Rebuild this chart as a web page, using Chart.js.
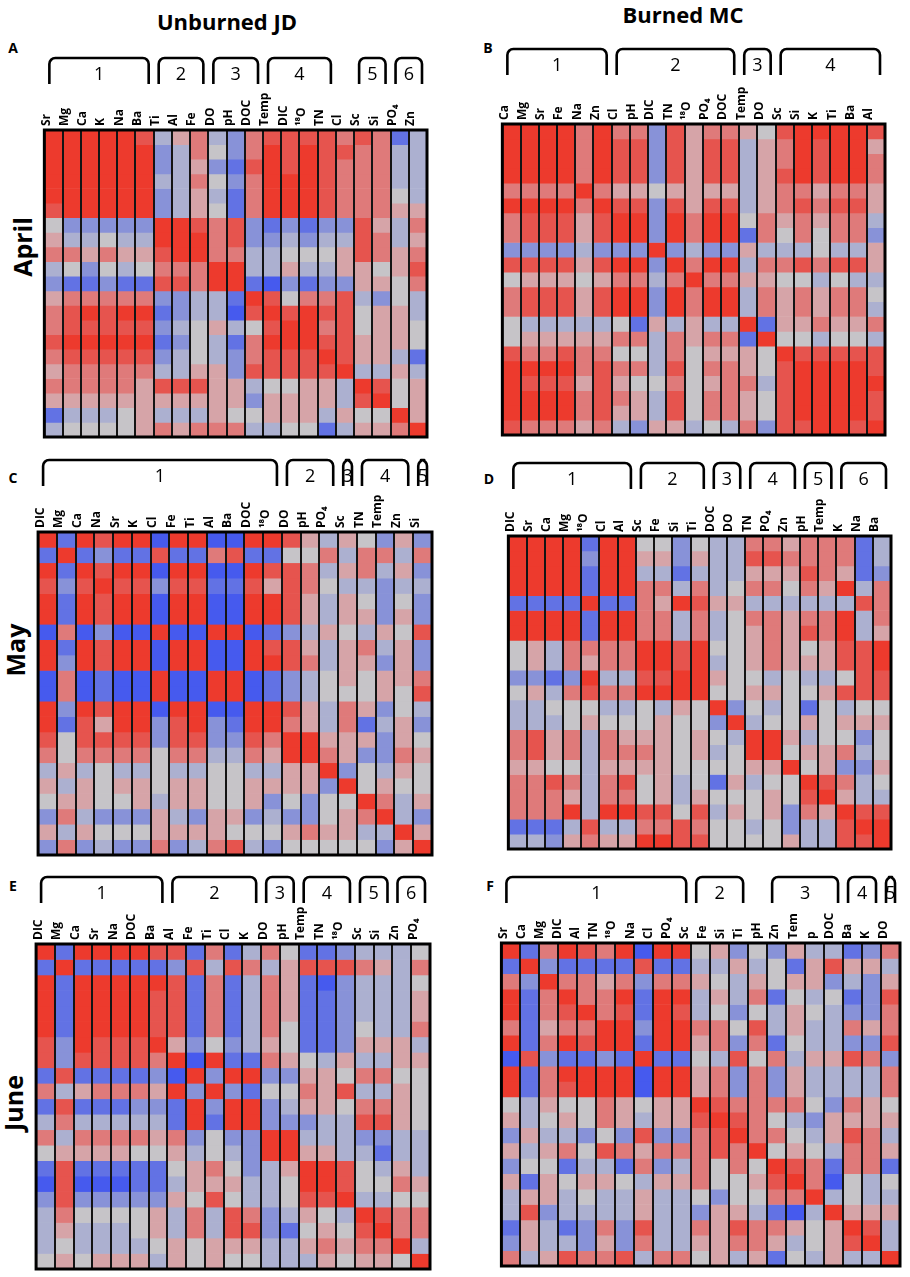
<!DOCTYPE html>
<html>
<head>
<meta charset="utf-8">
<script src="https://cdn.jsdelivr.net/npm/chart.js@4.4.1/dist/chart.umd.min.js"></script>
<style>
  body { margin: 0; background: #fff; width: 910px; height: 1277px; position: relative; overflow: hidden; font-family: "Open Sans", sans-serif; }
  .panel { position: absolute; }
  .txt { position: absolute; font-weight: bold; color: #000; white-space: nowrap; transform: translate(-50%, -50%); }
  .side { transform: translate(-50%, -50%) rotate(-90deg); font-size: 25px; }
</style>
</head>
<body>

<div class="txt" style="left:227px;top:21px;font-size:22px">Unburned JD</div>
<div class="txt" style="left:683px;top:14px;font-size:22px">Burned MC</div>
<div class="txt" style="left:13px;top:47px;font-size:14px">A</div>
<div class="txt" style="left:488px;top:47px;font-size:14px">B</div>
<div class="txt" style="left:13px;top:477px;font-size:14px">C</div>
<div class="txt" style="left:489px;top:478px;font-size:14px">D</div>
<div class="txt" style="left:13px;top:885px;font-size:14px">E</div>
<div class="txt" style="left:490px;top:885px;font-size:14px">F</div>
<div class="txt side" style="left:22px;top:247px">April</div>
<div class="txt side" style="left:15px;top:650px">May</div>
<div class="txt side" style="left:13px;top:1103px">June</div>

<div class="panel" id="pa"><canvas id="ca"></canvas></div>
<div class="panel" id="pb"><canvas id="cb"></canvas></div>
<div class="panel" id="pc"><canvas id="cc"></canvas></div>
<div class="panel" id="pd"><canvas id="cd"></canvas></div>
<div class="panel" id="pe"><canvas id="ce"></canvas></div>
<div class="panel" id="pf"><canvas id="cf"></canvas></div>

<script>
// correlation levels: -4 (strong negative, blue) ... 0 (none, grey) ... 4 (strong positive, red)

// April, unburned JD
const aprilJDVars = ["Sr","Mg","Ca","K","Na","Ba","Ti","Al","Fe","DO","pH","DOC","Temp","DIC","¹⁸O","TN","Cl","Sc","Si","PO₄","Zn"];
const aprilJDGroups = [["1",0,5],["2",6,8],["3",9,11],["4",12,15],["5",17,18],["6",19,20]];
const aprilJD = [
  [4,4,4,4,4,3,-1,1,2,-1,-2,2,3,3,3,3,2,3,2,-3,-1],
  [4,4,4,4,4,4,-2,-1,2,0,-2,2,4,3,4,3,3,2,2,-1,-1],
  [4,4,4,4,4,4,-2,-1,1,-2,-3,3,4,3,4,3,2,2,2,-1,-1],
  [4,4,4,4,4,4,-1,-1,2,0,-2,2,4,4,4,3,2,2,2,-1,-1],
  [4,4,4,4,4,4,-2,-1,1,-1,-3,2,4,4,4,3,2,2,2,0,-1],
  [3,4,4,4,4,4,-2,-1,1,0,-3,2,4,4,4,3,2,2,2,1,1],
  [0,-2,-2,-2,-2,-2,4,4,3,2,3,-2,-3,-2,-3,-2,-2,3,1,-1,2],
  [1,-1,-1,0,-1,-1,4,4,4,2,3,-2,-2,-1,-2,-1,-1,3,2,-1,1],
  [2,2,1,2,1,1,3,4,4,2,2,-1,-1,0,0,0,1,3,2,1,2],
  [-1,0,-2,0,-1,0,2,2,2,4,4,-1,-1,1,-1,-1,1,1,0,1,3],
  [-2,-3,-3,-2,-3,-3,3,3,2,4,4,-3,-4,-2,-3,-2,-2,1,1,0,2],
  [1,2,2,2,2,2,-2,-2,-1,-1,-3,4,3,0,2,2,3,-1,-2,0,-1],
  [2,3,4,3,4,4,-3,-2,-1,-1,-4,3,4,3,4,3,3,0,1,1,-1],
  [2,3,3,3,3,3,-2,-1,0,1,-1,0,3,4,4,2,3,0,1,1,0],
  [3,4,4,4,4,4,-3,-2,0,-1,-3,2,4,4,4,3,3,1,1,1,0],
  [2,3,3,3,3,3,-2,-1,0,-1,-2,2,3,3,3,4,3,1,1,-1,-3],
  [1,2,2,2,2,2,-1,-1,1,1,-2,3,3,3,3,3,4,-1,-1,1,-1],
  [2,2,2,2,2,1,3,3,3,1,1,-1,0,0,1,1,-1,4,3,0,1],
  [1,1,1,1,1,1,1,1,1,1,1,-2,1,1,1,1,-1,3,4,0,1],
  [-3,-1,-1,-1,0,1,-1,-1,-1,1,0,0,1,1,1,-1,1,0,0,4,1],
  [-1,0,0,0,0,1,2,1,2,2,2,-1,-1,0,0,-3,-1,1,1,2,4]
];

// April, burned MC
const aprilMCVars = ["Ca","Mg","Sr","Fe","Na","Zn","Cl","pH","DIC","TN","¹⁸O","PO₄","DOC","Temp","DO","Sc","Si","K","Ti","Ba","Al"];
const aprilMCGroups = [["1",0,5],["2",6,12],["3",13,14],["4",15,20]];
const aprilMC = [
  [4,4,4,4,2,4,2,2,-2,3,1,2,2,1,0,3,4,4,4,4,3],
  [4,4,4,4,2,4,3,3,-2,3,1,3,3,-1,1,2,4,3,4,4,1],
  [4,4,4,4,2,4,3,3,-2,3,1,3,3,-1,1,2,4,3,4,4,2],
  [4,4,4,4,2,4,3,3,-2,3,1,3,3,-1,1,3,4,3,4,4,2],
  [2,2,2,2,4,2,1,1,0,1,1,1,1,-1,1,2,2,1,2,2,1],
  [4,4,4,4,2,4,3,3,-2,3,1,3,3,-1,1,2,3,2,3,3,1],
  [2,3,3,3,1,3,4,4,-2,4,2,4,4,0,2,1,2,1,2,2,-1],
  [2,3,3,3,1,3,4,4,-2,4,2,4,4,-3,2,0,2,0,2,2,-2],
  [-2,-2,-2,-2,-1,-2,-2,-2,4,-2,-1,-2,-2,1,-1,-1,-1,0,-1,-1,1],
  [3,3,3,3,1,3,4,4,-2,4,2,4,4,-1,2,2,3,2,3,3,1],
  [0,1,1,1,0,1,2,2,-1,2,4,2,2,1,1,0,0,-1,0,-1,-1],
  [2,3,3,3,1,3,4,4,-2,4,2,4,4,-1,2,1,2,1,2,2,0],
  [2,3,3,3,1,3,4,4,-2,4,2,4,4,-1,2,1,2,1,2,2,-1],
  [0,-1,-1,-1,-1,-1,0,-3,1,-1,1,-1,-1,4,-3,1,1,2,1,1,2],
  [0,1,1,1,1,1,2,2,-1,2,1,2,2,-3,4,0,0,-1,0,0,-1],
  [3,2,2,3,2,2,0,0,-1,2,0,1,1,1,0,4,3,3,3,3,3],
  [4,4,4,4,2,3,2,2,-1,3,0,2,2,1,0,3,4,4,4,4,3],
  [4,3,3,3,1,3,1,0,0,2,0,1,2,2,-1,3,4,4,4,4,4],
  [4,4,4,4,2,3,2,1,-1,3,0,2,2,1,0,3,4,4,4,4,3],
  [4,4,4,4,2,3,1,1,-1,3,0,2,2,1,0,3,4,4,4,4,3],
  [3,2,2,2,1,2,-1,-2,1,1,-1,0,-1,2,-2,3,3,4,4,3,4]
];

// May, unburned JD
const mayJDVars = ["DIC","Mg","Ca","Na","Sr","K","Cl","Fe","Ti","Al","Ba","DOC","¹⁸O","DO","pH","PO₄","Sc","TN","Temp","Zn","Si"];
const mayJDGroups = [["1",0,12],["2",13,15],["3",16,16],["4",17,19],["5",20,20]];
const mayJD = [
  [4,-3,4,3,4,4,-4,4,4,-4,-4,4,4,3,1,-1,1,0,-2,1,-2],
  [-3,4,-3,-2,-3,-3,3,-3,-3,2,3,-3,-3,0,0,2,-1,2,2,-1,2],
  [4,-3,4,3,4,4,-4,4,4,-4,-4,4,3,3,2,-1,1,2,-1,1,-2],
  [3,-2,3,4,3,3,-2,3,3,-3,-3,3,1,3,2,0,-1,-1,-2,-1,-1],
  [4,-3,4,3,4,4,-4,4,4,-4,-4,4,4,3,1,-1,1,0,-2,0,-2],
  [4,-3,4,3,4,4,-4,4,4,-4,-4,4,4,3,1,-1,1,1,-2,1,-2],
  [-4,2,-4,-2,-4,-4,4,-4,-4,4,4,-4,-3,-2,-1,1,0,-1,1,0,3],
  [4,-3,4,3,4,4,-4,4,4,-4,-4,4,3,3,1,-1,1,2,-1,1,-2],
  [4,-2,4,3,4,4,-4,4,4,-4,-4,4,4,3,2,-1,1,1,-2,1,-2],
  [-4,2,-4,-3,-4,-4,4,-4,-4,4,4,-4,-3,-2,-1,0,1,0,1,1,2],
  [-4,2,-4,-3,-4,-4,4,-4,-4,4,4,-4,-3,-2,-1,0,0,0,1,0,3],
  [4,-2,4,3,4,4,-4,4,4,-4,-4,4,4,3,1,-1,2,1,-2,0,-1],
  [4,-3,3,1,4,4,-2,3,4,-2,-3,4,4,2,1,-1,2,-3,-1,1,-2],
  [3,0,3,3,3,3,-2,3,3,-2,-2,3,2,4,4,1,1,1,-2,1,0],
  [2,0,2,2,2,2,0,2,2,-1,-1,2,1,4,4,2,1,-2,-2,2,1],
  [-1,1,-1,0,-1,-1,0,-1,-1,0,0,-1,-1,1,1,4,-2,0,-1,1,0],
  [1,-1,1,0,1,1,0,1,1,0,0,1,1,1,1,-2,4,0,1,0,0],
  [0,1,1,0,0,1,-1,1,1,0,0,1,-2,0,-2,0,0,4,2,-1,1],
  [-2,2,-1,-2,-2,-2,1,-1,-2,1,1,-2,-1,-2,-2,0,1,2,4,-1,-2],
  [1,-1,1,0,0,0,1,1,1,1,0,0,0,1,2,1,1,-1,-1,4,1],
  [-2,2,-2,-1,-2,-2,2,-2,-1,2,3,-1,-2,0,0,0,0,0,-2,1,4]
];

// May, burned MC
const mayMCVars = ["DIC","Sr","Ca","Mg","¹⁸O","Cl","Al","Sc","Fe","Si","Ti","DOC","DO","TN","PO₄","Zn","pH","Temp","K","Na","Ba"];
const mayMCGroups = [["1",0,6],["2",7,10],["3",11,12],["4",13,15],["5",16,17],["6",18,20]];
const mayMC = [
  [4,4,4,4,-3,4,4,0,0,-2,0,-1,-1,2,2,1,2,2,2,-3,-1],
  [4,4,4,4,-2,4,4,1,1,-2,1,-1,-1,3,3,2,2,2,2,-3,-1],
  [4,4,4,4,-3,4,4,-1,-1,-3,-1,-1,-1,1,1,1,3,2,1,-3,-2],
  [4,4,4,4,-3,4,4,2,2,-1,2,-1,0,2,2,0,2,1,4,-1,2],
  [-3,-3,-3,-3,4,-3,-3,2,1,4,3,1,1,-1,-1,-1,-1,-1,-1,3,2],
  [4,4,4,4,-3,4,4,2,2,-1,2,-1,0,2,2,1,2,2,4,-1,2],
  [4,4,4,4,-3,4,4,2,2,-1,2,-1,0,1,2,1,3,2,4,-1,1],
  [0,1,-1,2,2,2,2,4,4,3,4,0,0,1,2,1,0,1,3,3,4],
  [0,1,-1,2,1,2,2,4,4,3,4,-1,0,1,2,1,1,1,3,3,4],
  [-2,-2,-3,-2,4,-1,-1,3,3,4,4,1,0,0,-1,0,-1,-1,0,3,3],
  [0,1,-1,2,3,2,2,4,4,4,4,0,0,1,1,0,0,1,3,3,3],
  [-1,-1,0,0,0,-1,-1,0,-1,1,0,4,-2,0,-1,0,-3,0,-1,0,0],
  [-1,-1,-1,0,1,0,0,0,1,0,0,-2,4,-1,0,0,1,0,1,1,1],
  [2,3,1,2,-1,2,1,1,1,0,1,0,-1,4,4,1,-1,0,0,-2,0],
  [2,3,1,2,-1,2,2,2,1,0,1,-1,0,4,4,0,1,1,2,-1,0],
  [1,1,0,0,-1,1,1,1,1,0,0,0,0,1,1,4,0,1,-2,-2,1],
  [2,2,3,2,-1,2,3,0,1,-1,0,-3,1,-1,0,0,4,3,2,-1,0],
  [2,2,2,1,-1,2,2,0,1,-1,1,0,0,0,1,0,3,4,1,-1,-1],
  [2,2,2,4,-1,4,4,3,3,0,3,-1,1,0,1,-2,2,1,4,3,3],
  [-3,-3,-3,-1,3,-1,-1,2,2,3,2,0,0,-1,0,-2,-1,-1,3,4,4],
  [-1,-1,-2,1,2,1,1,4,4,3,3,0,0,0,0,1,-1,-1,3,3,4]
];

// June, unburned JD
const juneJDVars = ["DIC","Mg","Ca","Sr","Na","DOC","Ba","Al","Fe","Ti","Cl","K","DO","pH","Temp","TN","¹⁸O","Sc","Si","Zn","PO₄"];
const juneJDGroups = [["1",0,6],["2",7,11],["3",12,13],["4",14,16],["5",17,18],["6",19,20]];
const juneJD = [
  [4,-3,4,4,4,4,3,3,-3,2,-3,-1,2,0,-3,-3,-2,-1,-1,-1,0],
  [-3,4,-3,-3,-3,-3,-3,-2,3,-1,3,2,-1,1,3,3,3,2,1,-1,2],
  [4,-3,4,4,4,4,4,3,-3,2,-3,-1,2,1,-3,-4,-2,-1,-1,-1,0],
  [4,-3,4,4,4,4,3,3,-3,2,-3,-1,2,1,-3,-3,-2,-1,-1,-1,1],
  [4,-3,4,4,4,4,3,3,-3,2,-3,-1,2,1,-3,-3,-2,-1,-1,-1,1],
  [4,-3,4,4,4,4,3,3,-3,2,-3,-1,2,0,-3,-3,-2,0,-1,-1,2],
  [3,-2,4,3,3,3,4,1,-2,0,-2,-1,1,0,-3,-3,-2,1,1,1,-1],
  [3,-2,3,3,3,3,2,4,-4,4,-3,-3,2,1,0,-1,1,-1,-1,1,1],
  [-3,3,-3,-3,-3,-3,-2,-4,4,-2,4,4,-2,-2,1,1,0,2,2,0,0],
  [2,-1,1,2,2,2,1,4,-2,4,-2,-3,0,0,2,1,3,-1,-1,1,0],
  [-3,3,-3,-3,-3,-2,-2,-3,4,-2,4,4,-2,-1,1,1,0,2,2,1,0],
  [-1,2,-1,-1,-1,-1,-1,-3,4,-3,4,4,-2,-2,-2,-1,-1,3,3,1,0],
  [2,-1,2,2,2,2,1,2,-2,0,-2,-2,4,4,-1,-1,-1,-2,-2,-1,-1],
  [0,1,1,1,1,0,0,1,-1,0,-1,-2,4,4,1,1,-1,-1,-3,-1,-1],
  [-3,3,-3,-3,-3,-3,-3,0,1,2,0,-2,-1,1,4,4,3,0,-1,1,-1],
  [-4,3,-4,-4,-4,-3,-3,-1,1,1,1,-1,-1,0,4,4,3,0,0,2,1],
  [-2,3,-2,-2,-2,-2,-2,1,0,3,0,-1,-1,0,3,3,4,-1,-1,0,0],
  [-1,2,0,0,0,0,1,-1,2,-1,3,2,-2,-1,1,0,-1,4,3,2,2],
  [-1,1,-1,-1,-1,0,1,-1,2,-1,3,3,-2,-3,0,1,0,3,4,2,2],
  [-1,0,-1,-1,-1,-1,0,1,0,1,1,1,-1,-1,1,2,1,2,2,4,-1],
  [0,1,0,1,1,1,-1,1,0,1,0,0,-1,-1,-1,1,0,1,1,0,4]
];

// June, burned MC (22 printed labels over 21 columns, as in the figure)
const juneMCVars = ["Sr","Ca","Mg","DIC","Al","TN","¹⁸O","Na","Cl","PO₄","Sc","Fe","Si","Ti","pH","Zn","Temp","DOC","Ba","K","DO"];
const juneMCLabels = ["Sr","Ca","Mg","DIC","Al","TN","¹⁸O","Na","Cl","PO₄","Sc","Fe","Si","Ti","pH","Zn","Tem","p","DOC","Ba","K","DO"];
const juneMCGroups = [["1",0,9],["2",10,12],["3",14,17],["4",18,19],["5",20,20]];
const juneMC = [
  [4,-3,2,4,3,2,4,-4,4,4,0,1,-2,0,-2,1,-1,-1,-3,-2,2],
  [-3,4,-2,-3,-3,-3,-3,3,-3,-3,-1,-1,1,-1,0,-3,1,3,1,1,-1],
  [2,-2,4,2,2,1,2,-2,2,2,1,0,-1,1,0,1,1,-2,-1,-2,1],
  [4,-3,2,4,2,2,4,-3,4,4,-1,1,-1,2,-3,0,-1,0,-3,-2,3],
  [4,-3,2,3,4,2,3,-3,4,3,-1,0,-2,0,-1,1,0,-1,-2,-2,2],
  [2,-3,1,2,2,4,4,-2,4,4,2,2,0,3,-1,1,-1,-1,2,1,2],
  [4,-3,2,4,3,4,4,-3,4,4,1,2,-2,2,-3,0,-1,-1,-2,-2,3],
  [-4,3,-2,-3,-3,-2,-3,4,-3,-3,0,-1,3,0,2,-1,1,1,3,2,-2],
  [4,-3,2,4,4,4,4,-4,4,4,1,2,-2,2,-2,1,-1,-1,-1,-1,2],
  [4,-3,2,3,4,4,4,-4,4,4,1,2,-2,2,-2,1,-1,-1,-1,-1,2],
  [0,-1,1,0,0,2,1,0,1,1,4,3,2,2,2,2,0,-2,2,1,0],
  [1,-1,0,1,0,2,1,-1,1,1,3,4,3,2,0,-1,-2,1,1,1,1],
  [-2,1,-1,-1,-2,0,-2,3,-2,-2,2,3,4,2,2,0,-1,1,3,2,-1],
  [1,-1,1,2,0,3,2,1,2,2,2,3,2,4,0,1,0,-1,2,2,1],
  [-2,0,0,-3,-1,-1,-3,2,-2,-1,2,0,2,0,4,3,2,-3,2,2,-3],
  [1,-3,1,0,1,1,0,-1,1,1,2,0,0,1,3,4,2,-4,0,-1,0],
  [-1,1,1,-1,0,-1,-1,1,-1,-1,0,-2,0,0,2,2,4,-1,0,-1,-1],
  [-1,3,-2,-1,-1,-1,-1,1,-1,-1,-2,1,1,-1,-3,-4,-1,4,1,1,1],
  [-3,1,-1,-3,-2,2,-2,3,-1,-1,2,1,3,2,2,1,0,1,4,3,-1],
  [-2,1,-1,-1,-2,1,-2,2,-1,-1,1,1,2,2,1,-1,0,1,3,4,-1],
  [2,-1,1,3,2,2,3,-1,2,2,0,1,-1,1,-3,0,-1,1,-1,-1,4]
];

// colour for each level, blue -> grey -> red
const levelColors = [
  "rgb(70,90,238)", "rgb(98,114,228)", "rgb(136,146,216)", "rgb(172,176,208)",
  "rgb(198,196,200)",
  "rgb(214,164,168)", "rgb(223,122,122)", "rgb(230,84,78)", "rgb(237,58,45)"
];

const labelSize = 12;

const frame = {
  id: "frame",
  afterDraw(chart, args, opts) {
    const { ctx, chartArea: a } = chart;
    const x = chart.scales.x;
    const half = (a.right - a.left) / chart.data.labels.length / 2;
    ctx.save();
    ctx.strokeStyle = "#000";
    ctx.lineWidth = 3;
    ctx.strokeRect(a.left, a.top, a.right - a.left, a.bottom - a.top);
    ctx.lineWidth = 2.6;
    ctx.lineJoin = "round";
    ctx.fillStyle = "#000";
    ctx.font = "18px 'Open Sans', sans-serif";
    ctx.textAlign = "center";
    ctx.textBaseline = "middle";
    const t = opts.top, b = opts.top + opts.leg, rad = 6;
    opts.groups.forEach(([num, first, last]) => {
      const l = x.getPixelForValue(first) - half + opts.inset;
      const r = Math.min(x.getPixelForValue(last) + half - opts.inset, chart.width - 2);
      ctx.beginPath();
      ctx.moveTo(l, b);
      ctx.lineTo(l, t + rad);
      ctx.arcTo(l, t, l + rad, t, rad);
      ctx.lineTo(r - rad, t);
      ctx.arcTo(r, t, r, t + rad, rad);
      ctx.lineTo(r, b);
      ctx.stroke();
      ctx.fillText(num, (l + r) / 2, t + 17);
    });
    ctx.restore();
  }
};

function drawPanel(id, vars, labels, matrix, groups, box, bracketTop) {
  const [bx, by, bw, bh] = box;
  const leg = 26;
  const left = bx - 3, top = bracketTop - 4;
  const padTop = 4 + leg + 2;
  const band = by - top - padTop;
  const holder = document.getElementById("p" + id);
  holder.style.left = left + "px";
  holder.style.top = top + "px";
  holder.style.width = (bw + 6) + "px";
  holder.style.height = (by + bh + 3 - top) + "px";

  new Chart(document.getElementById("c" + id), {
    type: "bar",
    data: {
      labels: vars,
      datasets: matrix.map(row => ({
        data: row.map(() => 1),
        backgroundColor: row.map(v => levelColors[v + 4]),
        borderWidth: 0,
        barPercentage: 1,
        categoryPercentage: 1
      }))
    },
    options: {
      responsive: true,
      maintainAspectRatio: false,
      animation: false,
      events: [],
      layout: { padding: { top: padTop, left: 3, right: 3, bottom: 3 } },
      scales: {
        x: {
          position: "top",
          stacked: true,
          offset: true,
          ticks: { display: false },
          grid: { offset: true, z: 1, color: "#141414", lineWidth: 2, drawTicks: false },
          border: { display: false },
          afterFit: s => { s.height = 0; }
        },
        xl: {
          type: "category",
          position: "top",
          labels: labels,
          offset: true,
          grid: { display: false, drawTicks: false },
          border: { display: false },
          ticks: {
            autoSkip: false, minRotation: 90, maxRotation: 90, padding: 4,
            labelOffset: labelSize * 0.6,
            color: "#000",
            font: { family: "'Open Sans', sans-serif", weight: "bold", size: labelSize }
          },
          afterFit: s => { s.height = band; }
        },
        y: { display: false, stacked: true, reverse: true, min: 0, max: matrix.length }
      },
      plugins: {
        legend: { display: false },
        tooltip: { enabled: false },
        frame: { groups: groups, top: 4, leg: leg, inset: 5 }
      }
    },
    plugins: [frame]
  });
}

drawPanel("a", aprilJDVars, aprilJDVars, aprilJD, aprilJDGroups, [38, 130, 389, 307], 58);
drawPanel("b", aprilMCVars, aprilMCVars, aprilMC, aprilMCGroups, [496, 124, 389, 311], 49);
drawPanel("c", mayJDVars, mayJDVars, mayJD, mayJDGroups, [32, 532, 400, 323], 460);
drawPanel("d", mayMCVars, mayMCVars, mayMC, mayMCGroups, [502, 536, 389, 313], 463);
drawPanel("e", juneJDVars, juneJDVars, juneJD, juneJDGroups, [30, 944, 400, 325], 877);
drawPanel("f", juneMCVars, juneMCLabels, juneMC, juneMCGroups, [495, 943, 405, 323], 877);
</script>
</body>
</html>
